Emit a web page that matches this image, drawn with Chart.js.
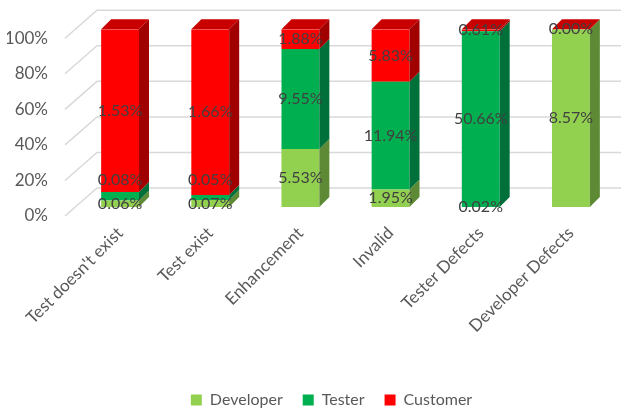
<!DOCTYPE html>
<html lang="en">
<head>
  <meta charset="UTF-8">
  <title>Defects by origin</title>
  <script src="https://cdn.jsdelivr.net/npm/chart.js"></script>
  <style>
    html, body { margin: 0; padding: 0; background: #fff; }
    #wrap { width: 621px; height: 412px; }
  </style>
</head>
<body>
  <div id="wrap"><canvas id="defectChart"></canvas></div>
  <script>
    const categories = ["Test doesn't exist", "Test exist", "Enhancement", "Invalid", "Tester Defects", "Developer Defects"];
    const developer = [0.06, 0.07, 5.53, 1.95, 0.02, 8.57];
    const tester = [0.08, 0.05, 9.55, 11.94, 50.66, null];
    const customer = [1.53, 1.66, 1.88, 5.83, 0.61, 0.00];
    const yTicks = [0, 20, 40, 60, 80, 100];

    const series = [
      { label: 'Developer', values: developer, face: '#92d050', side: '#5f8a35', top: '#7db043' },
      { label: 'Tester', values: tester, face: '#00b050', side: '#00703a', top: '#009544' },
      { label: 'Customer', values: customer, face: '#ff0000', side: '#a00000', top: '#c80000' }
    ];

    // 100% stacked: each category is shown as its share of the row total
    const totals = categories.map((c, i) => series.reduce((s, d) => s + (d.values[i] || 0), 0));
    const share = (vals) => vals.map((v, i) => v == null ? null : v / totals[i] * 100);

    const DX = 10, DY = 10;   // bar depth
    const WALL = 19;          // back wall offset

    const excel3d = {
      id: 'excel3d',
      afterLayout(chart) {
        // legend sits a little right of centre and lower in the original
        const lg = chart.legend;
        lg.left += 20; lg.right += 20;
        lg.top += 6; lg.bottom += 6;
      },
      beforeDatasetsDraw(chart) {
        const { ctx, chartArea, scales: { y } } = chart;
        ctx.save();
        ctx.strokeStyle = '#d9d9d9';
        ctx.lineWidth = 1.5;
        yTicks.forEach(t => {
          const py = y.getPixelForValue(t);
          ctx.beginPath();
          ctx.moveTo(chartArea.left - 10, py + 9);
          ctx.lineTo(chartArea.left + 22, py - WALL);
          ctx.lineTo(chart.width, py - WALL);
          ctx.stroke();
        });
        ctx.restore();
      },
      afterDatasetsDraw(chart) {
        const ctx = chart.ctx;
        ctx.save();
        // side faces
        series.forEach((s, di) => {
          chart.getDatasetMeta(di).data.forEach((bar, i) => {
            if (s.values[i] == null) return;
            const { x, y, base, width } = bar.getProps(['x', 'y', 'base', 'width'], true);
            const r = x + width / 2;
            ctx.fillStyle = s.side;
            ctx.beginPath();
            ctx.moveTo(r, y);
            ctx.lineTo(r + DX, y - DY);
            ctx.lineTo(r + DX, base - DY);
            ctx.lineTo(r, base);
            ctx.closePath();
            ctx.fill();
          });
        });
        // top faces on the highest segment
        categories.forEach((c, i) => {
          let di = series.length - 1;
          while (di > 0 && series[di].values[i] == null) di--;
          const bar = chart.getDatasetMeta(di).data[i];
          const { x, y, width } = bar.getProps(['x', 'y', 'width'], true);
          const l = x - width / 2, r = x + width / 2;
          ctx.fillStyle = series[di].top;
          ctx.beginPath();
          ctx.moveTo(l, y);
          ctx.lineTo(l + DX, y - DY);
          ctx.lineTo(r + DX, y - DY);
          ctx.lineTo(r, y);
          ctx.closePath();
          ctx.fill();
        });
        // value labels
        ctx.font = '16px Lato';
        ctx.fillStyle = '#404040';
        ctx.textAlign = 'center';
        ctx.textBaseline = 'middle';
        categories.forEach((c, i) => {
          let prev = null;
          series.forEach((s, di) => {
            if (s.values[i] == null) return;
            const bar = chart.getDatasetMeta(di).data[i];
            const { x, y, base } = bar.getProps(['x', 'y', 'base'], true);
            let ly = (y + base) / 2;
            if (prev != null && prev - ly < 24) ly = prev - 24;
            ctx.fillText(s.values[i].toFixed(2) + '%', x, ly);
            prev = ly;
          });
        });
        ctx.restore();
      }
    };

    new Chart(document.getElementById('defectChart'), {
      type: 'bar',
      data: {
        labels: categories,
        datasets: series.map(s => ({
          label: s.label,
          data: share(s.values),
          backgroundColor: s.face,
          borderWidth: 0,
          barPercentage: 0.42,
          categoryPercentage: 1
        }))
      },
      options: {
        responsive: true,
        maintainAspectRatio: false,
        animation: false,
        layout: { padding: { top: 20, left: 7, right: 5, bottom: 0 } },
        plugins: {
          tooltip: { enabled: false },
          legend: {
            position: 'bottom',
            labels: {
              boxWidth: 11,
              boxHeight: 11,
              padding: 20,
              color: '#595959',
              font: { family: 'Lato', size: 16 }
            }
          }
        },
        scales: {
          x: {
            stacked: true,
            grid: { display: false },
            border: { display: false },
            ticks: {
              color: '#595959',
              font: { family: 'Lato', size: 17 },
              maxRotation: 45,
              minRotation: 45,
              padding: 8
            },
            afterFit: (scale) => { scale.height = 159; }
          },
          y: {
            stacked: true,
            min: 0,
            max: 100,
            grid: { display: false },
            border: { display: false },
            afterBuildTicks: (scale) => { scale.ticks = yTicks.map(v => ({ value: v })); },
            ticks: {
              color: '#595959',
              font: { family: 'Lato', size: 17 },
              padding: 19,
              labelOffset: 9,
              callback: v => v + '%'
            },
            afterFit: (scale) => { scale.width = 68; }
          }
        }
      },
      plugins: [excel3d]
    });
  </script>
</body>
</html>
